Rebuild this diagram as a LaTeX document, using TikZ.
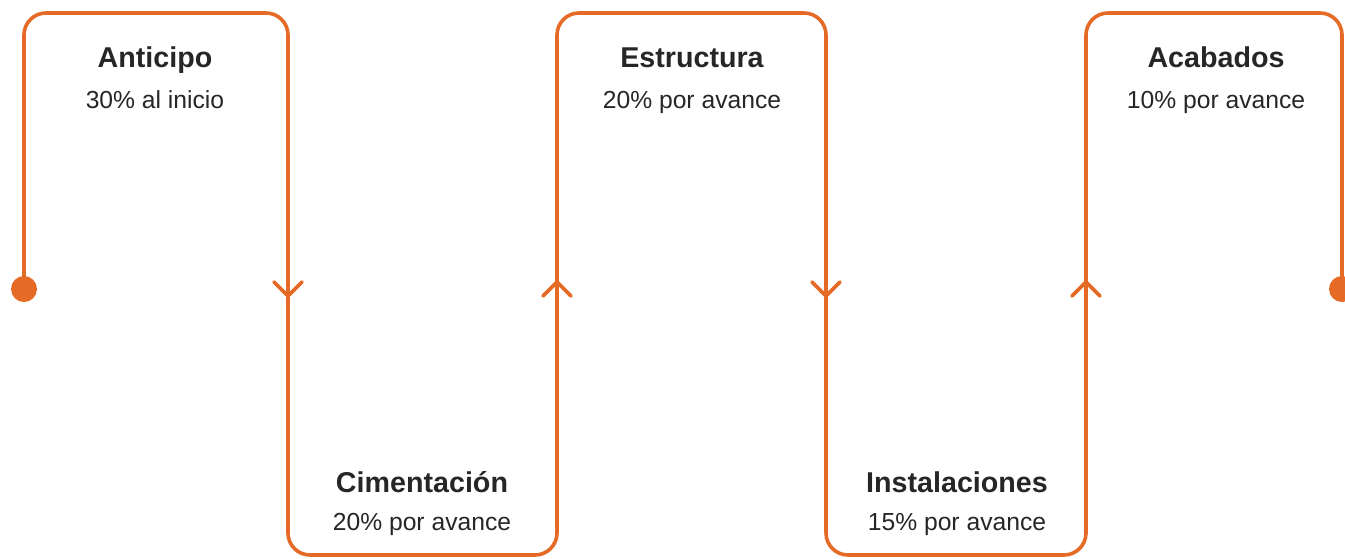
\documentclass[tikz,border=0pt]{standalone}
\usepackage{fontspec}
\setmainfont{Liberation Sans}
\usepackage{xcolor}
\definecolor{pathorange}{RGB}{228,106,38}
\definecolor{labelgray}{RGB}{38,38,38}

\begin{document}
\begin{tikzpicture}[x=0.75pt,y=0.75pt,yscale=-1,
  track/.style={draw=pathorange,line width=2.7pt,line cap=round,line join=round},
  stage/.style={font=\bfseries\fontsize{21.5}{24}\selectfont,text=labelgray,anchor=base,inner sep=0pt},
  share/.style={font=\fontsize{18.5}{22}\selectfont,text=labelgray,anchor=base,inner sep=0pt}]
\useasboundingbox (0,0) rectangle (1345,558);

%Corners of the track
\coordinate (start) at (24,289);
\coordinate (t1) at (24,13);
\coordinate (t2) at (288,13);
\coordinate (b2) at (288,555);
\coordinate (b3) at (557,555);
\coordinate (t3) at (557,13);
\coordinate (t4) at (826,13);
\coordinate (b4) at (826,555);
\coordinate (b5) at (1086,555);
\coordinate (t5) at (1086,13);
\coordinate (t6) at (1342,13);
\coordinate (finish) at (1342,289);

%Straight Lines: the track
\draw [track,rounded corners=16.5pt] (start) -- (t1) -- (t2) -- (b2) -- (b3) -- (t3) -- (t4) -- (b4) -- (b5) -- (t5) -- (t6) -- (finish);

%Shape: end dots
\fill [pathorange] (start) circle (9.75pt);
\fill [pathorange] (finish) circle (9.75pt);

%Chevrons
\coordinate (m2) at (288,289);
\coordinate (m3) at (557,289);
\coordinate (m4) at (826,289);
\coordinate (m5) at (1086,289);
\draw [track] (m2) ++(-14,-7) -- ++(14,14) -- ++(14,-14);
\draw [track] (m3) ++(-14,7) -- ++(14,-14) -- ++(14,14);
\draw [track] (m4) ++(-14,-7) -- ++(14,14) -- ++(14,-14);
\draw [track] (m5) ++(-14,7) -- ++(14,-14) -- ++(14,14);

% Text Node
\node [stage] (anticipo) at (155,67) {Anticipo};
\node [share] (anticipoPct) at (155,108) {30\% al inicio};
% Text Node
\node [stage] (cimentacion) at (422,492) {Cimentación};
\node [share] (cimentacionPct) at (422,530) {20\% por avance};
% Text Node
\node [stage] (estructura) at (692,67) {Estructura};
\node [share] (estructuraPct) at (692,108) {20\% por avance};
% Text Node
\node [stage] (instalaciones) at (957,492) {Instalaciones};
\node [share] (instalacionesPct) at (957,530) {15\% por avance};
% Text Node
\node [stage] (acabados) at (1216,67) {Acabados};
\node [share] (acabadosPct) at (1216,108) {10\% por avance};

\end{tikzpicture}
\end{document}
